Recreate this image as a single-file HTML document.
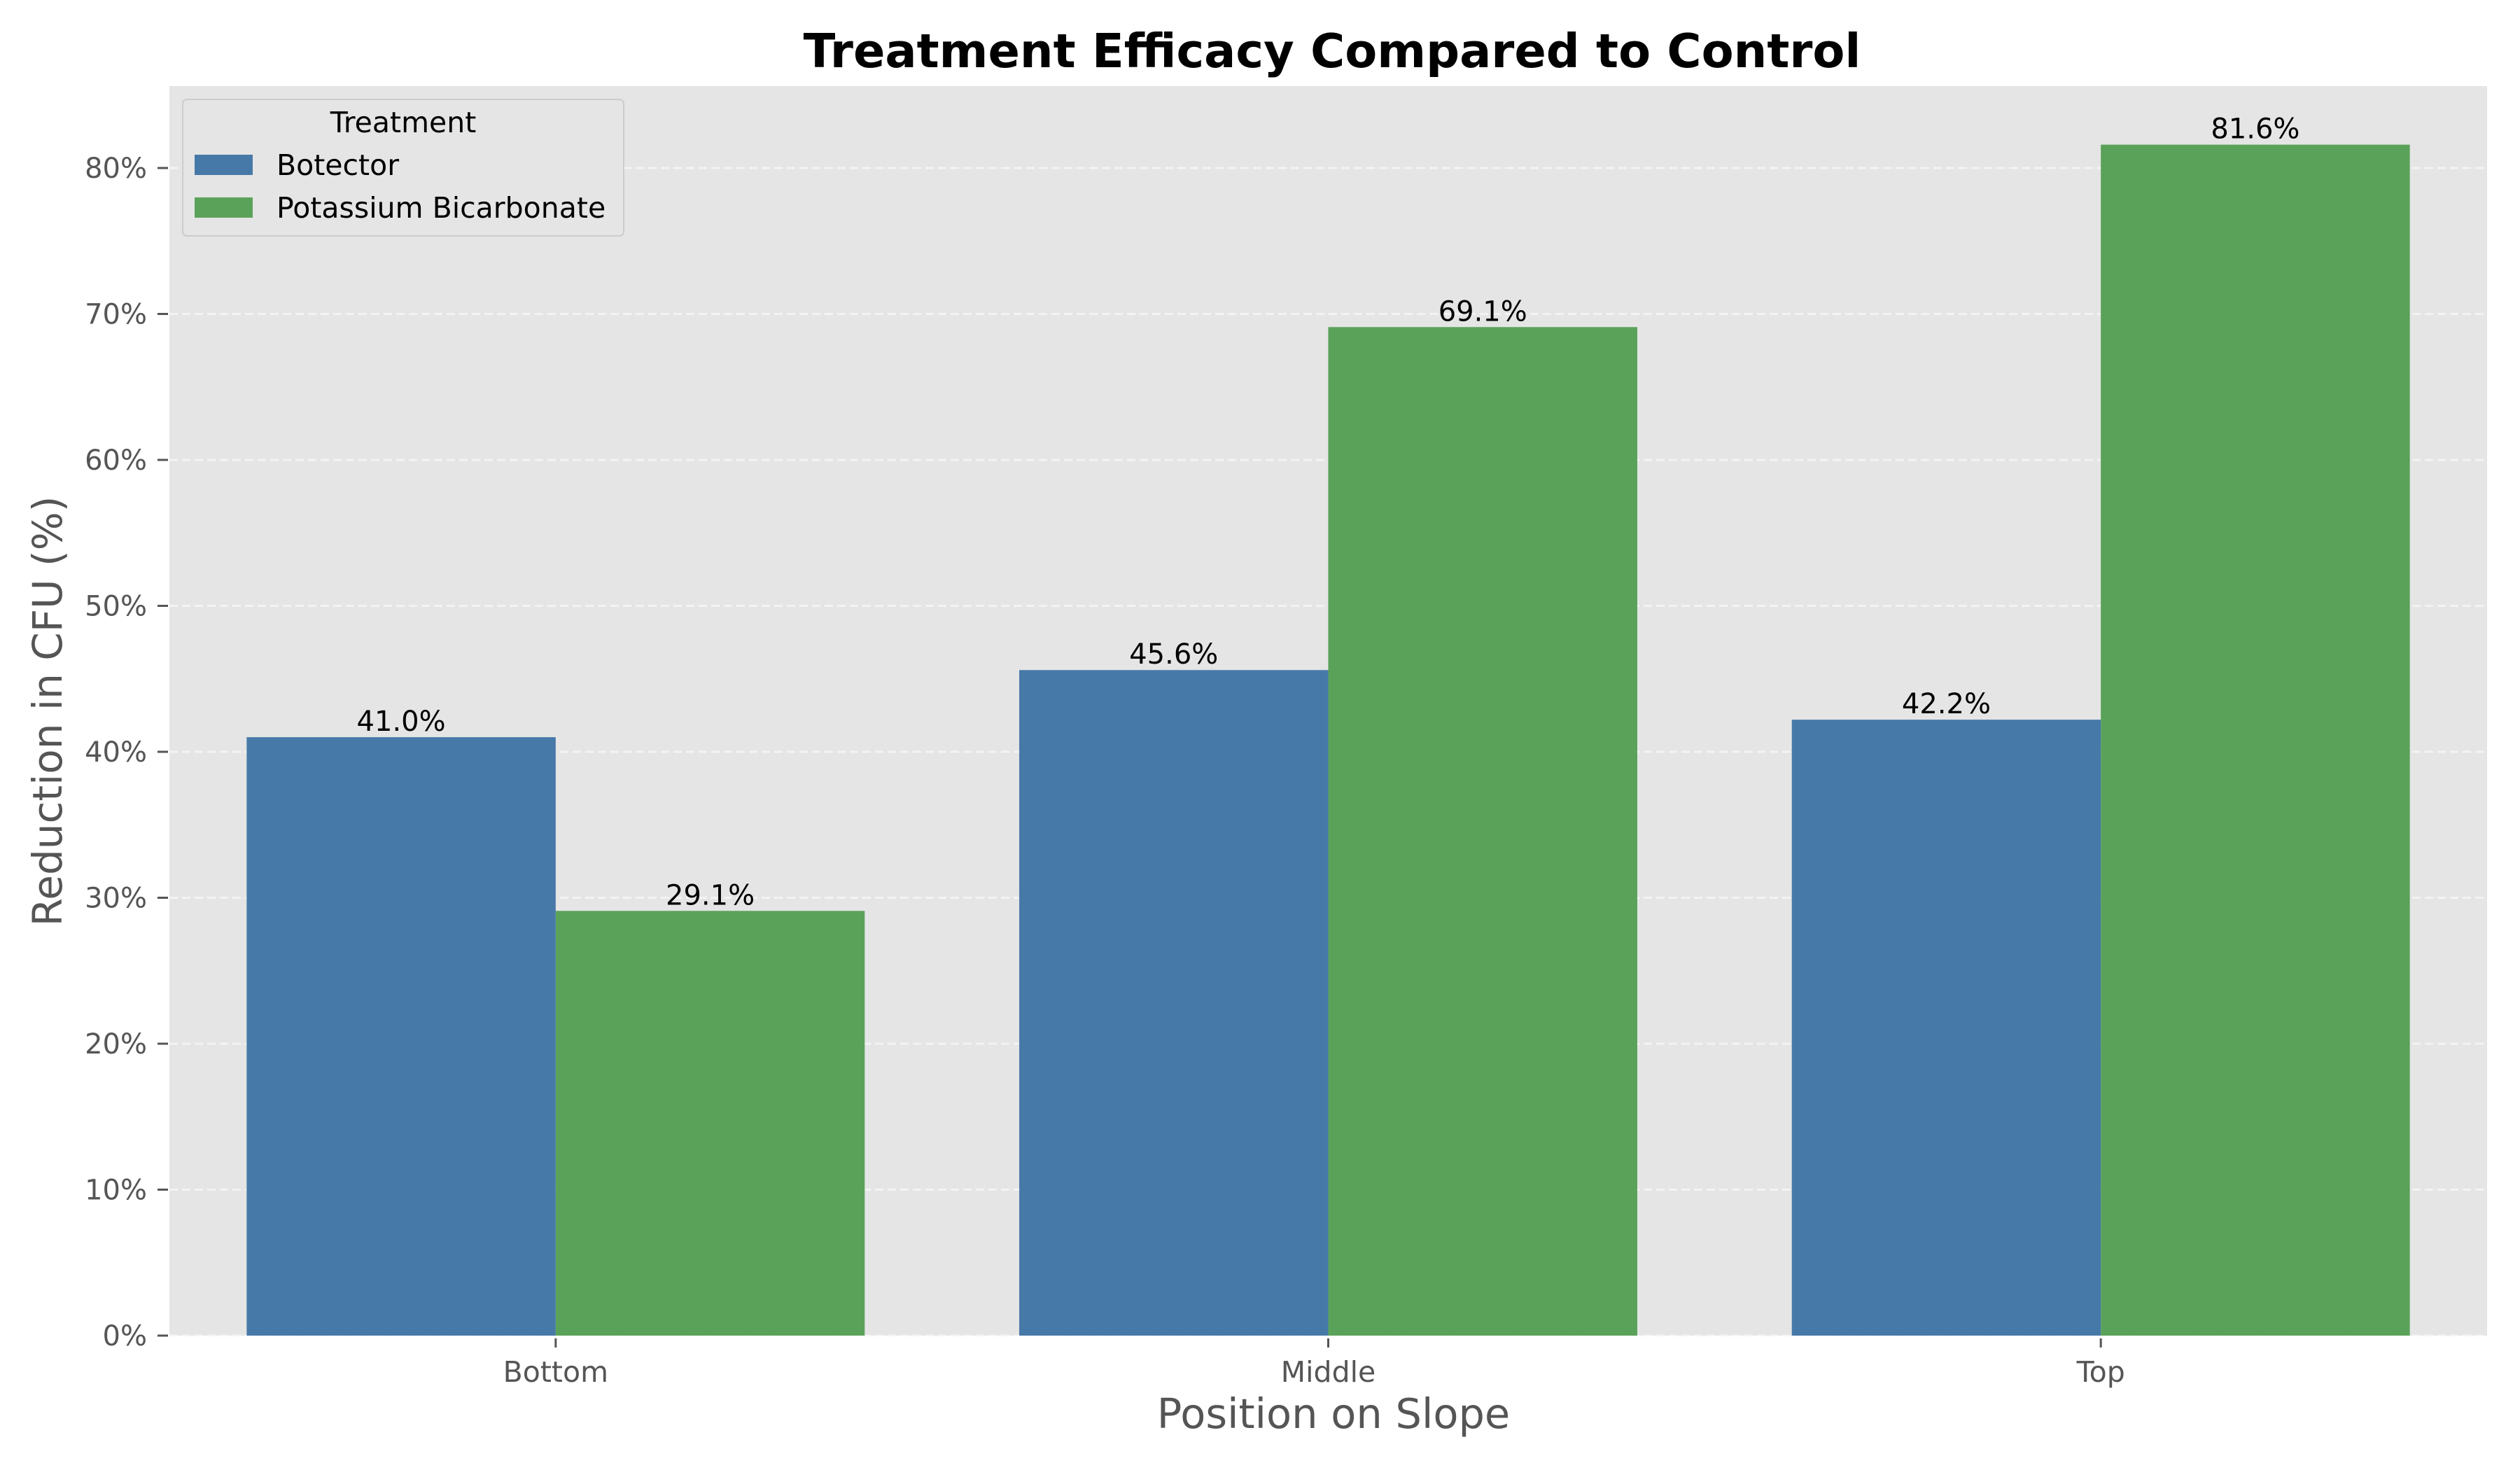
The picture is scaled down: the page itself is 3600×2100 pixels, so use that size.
<!DOCTYPE html>
<html><head><meta charset="utf-8"><style>
html,body{margin:0;padding:0;background:#fff}
svg{display:block}
text{font-family:"DejaVu Sans","Liberation Sans",sans-serif}
</style></head><body>
<svg id="chart" width="3600" height="2100" viewBox="0 0 3600 2100" xmlns="http://www.w3.org/2000/svg">
<rect x="0" y="0" width="3600" height="2100" fill="#fff"/>
<rect x="242" y="123" width="3311" height="1785" fill="#e5e5e5"/>
<g id="grid"></g>
<g id="bars"></g>
<g id="labels"></g>
<g id="yticks"></g>
<g id="xticks"></g>
<text x="1903" y="96" text-anchor="middle" font-size="67" font-weight="bold" fill="#000">Treatment Efficacy Compared to Control</text>
<text x="1905" y="2040" text-anchor="middle" font-size="59" fill="#555">Position on Slope</text>
<text transform="translate(88,1016) rotate(-90)" text-anchor="middle" font-size="58" fill="#555">Reduction in CFU (%)</text>
<g>
<rect x="261" y="142" width="630" height="195" rx="6" fill="#e5e5e5" stroke="#cccccc" stroke-width="2"/>
<text x="576" y="189" text-anchor="middle" font-size="41" fill="#000">Treatment</text>
<rect x="278" y="221" width="83" height="29" fill="#4779a8"/>
<text x="395" y="250" font-size="41" fill="#000">Botector</text>
<rect x="278" y="282" width="83" height="29" fill="#5aa25a"/>
<text x="395" y="311" font-size="41" fill="#000">Potassium Bicarbonate</text>
</g>
</svg>
<script>
const categories = ["Bottom", "Middle", "Top"];
const seriesNames = ["Botector", "Potassium Bicarbonate"];
const botectorValues = [41.0, 45.6, 42.2];
const potassiumValues = [29.1, 69.1, 81.6];
const yTickValues = [0, 10, 20, 30, 40, 50, 60, 70, 80];

const NS = "http://www.w3.org/2000/svg";
const plotLeft = 242, plotRight = 3553, plotTop = 123, plotBottom = 1908;
const yMax = 1785 / 20.85;
function yScale(v) { return plotBottom - v / yMax * (plotBottom - plotTop); }
function xScale(i) { return plotLeft + (i + 0.5) / categories.length * (plotRight - plotLeft); }
const unit = (plotRight - plotLeft) / categories.length;
const barW = unit * 0.4;
const colors = ["#4779a8", "#5aa25a"];
function mk(tag, attrs, parent) {
  const el = document.createElementNS(NS, tag);
  for (const k in attrs) el.setAttribute(k, attrs[k]);
  parent.appendChild(el);
  return el;
}
const grid = document.getElementById("grid");
const yt = document.getElementById("yticks");
yTickValues.forEach(v => {
  const y = yScale(v);
  const g = mk("line", {x1: plotLeft, x2: plotRight, y1: y, y2: y, stroke: "#f7f7f7", "stroke-width": 3, "stroke-dasharray": "12,6", opacity: 0.8}, grid);
  
  
  const t = mk("line", {x1: 225, x2: 240, y1: y, y2: y, stroke: "#555", "stroke-width": 3}, yt);
  
  
  const l = mk("text", {x: 210, y: y + 14, "text-anchor": "end", "font-size": 40, fill: "#555"}, yt);
  l.textContent = v + "%";
  
  
});
const bars = document.getElementById("bars");
const labels = document.getElementById("labels");
const xt = document.getElementById("xticks");
const series = [botectorValues, potassiumValues];
categories.forEach((c, i) => {
  const cx = xScale(i);
  series.forEach((vals, s) => {
    const v = vals[i];
    const x = s === 0 ? cx - barW : cx;
    const y = yScale(v);
    const r = mk("rect", {x: x, y: y, width: barW, height: plotBottom - y, fill: colors[s]}, bars);
    
    
    const t = mk("text", {x: x + barW / 2, y: y - 9, "text-anchor": "middle", "font-size": 40, fill: "#000"}, labels);
    t.textContent = v.toFixed(1) + "%";
    
    
  });
  const tm = mk("line", {x1: cx, x2: cx, y1: 1912, y2: 1925, stroke: "#555", "stroke-width": 3}, xt);
  
  
  const tl = mk("text", {x: cx, y: 1974, "text-anchor": "middle", "font-size": 41, fill: "#555"}, xt);
  tl.textContent = c;
  
  
});
</script>
</body></html>
